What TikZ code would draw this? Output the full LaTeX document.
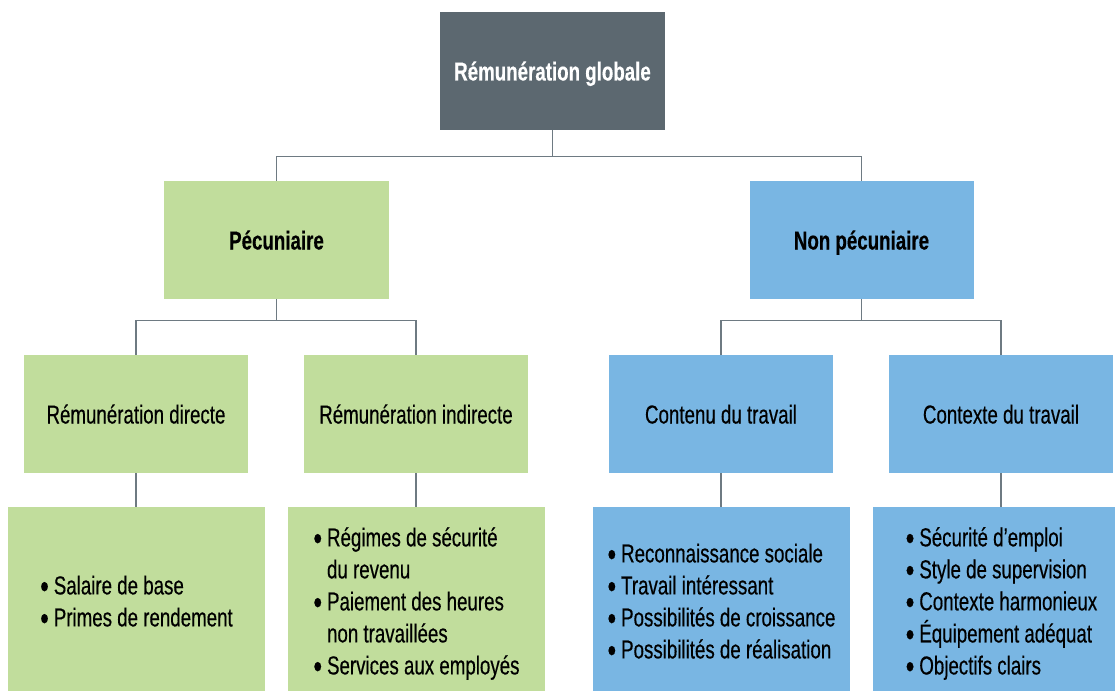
\documentclass[tikz,border=0pt]{standalone}
\usepackage{fontspec}
\setmainfont{Liberation Sans}[FakeStretch=0.72, FakeBold=0.4]
\usepackage{xcolor}
\usetikzlibrary{positioning, calc}
\definecolor{slate}{HTML}{5C6870}
\definecolor{leaf}{HTML}{C1DD9C}
\definecolor{sky}{HTML}{79B6E3}
\definecolor{wire}{HTML}{6E7A82}
\newcommand{\bul}{\smash{\fontsize{34}{32}\selectfont\raisebox{-3.5pt}{\textbullet}}}

\tikzset{
  box/.style={inner sep=0pt, minimum width=224pt, minimum height=118pt,
    font=\fontsize{26}{32}\selectfont, align=center, text height=22pt, text depth=3pt},
  rootbox/.style={box, fill=slate, text=white, minimum width=225pt, font=\fontsize{26}{32}\selectfont\bfseries},
  greenbox/.style={box, fill=leaf},
  bluebox/.style={box, fill=sky},
  listbox/.style={box, minimum width=257pt, minimum height=194pt, text height=, text depth=},
  link/.style={draw=wire, line width=1.3pt}
}

\begin{document}
\begin{tikzpicture}[x=1pt, y=-1pt]
  \useasboundingbox (0,0) rectangle (1115,690);

  % top level
  \node[rootbox] (root) at (552.5,71) {Rémunération globale};

  % second level
  \node[greenbox, minimum width=225pt, font=\fontsize{26}{32}\selectfont\bfseries] (pec) at (276.5,240) {Pécuniaire};
  \node[bluebox, font=\fontsize{26}{32}\selectfont\bfseries] (npec) at (861.5,240) {Non pécuniaire};

  % third level
  \node[greenbox] (direct) at (136,414) {Rémunération directe};
  \node[greenbox] (indirect) at (416,414) {Rémunération indirecte};
  \node[bluebox] (contenu) at (721,414) {Contenu du travail};
  \node[bluebox] (contexte) at (1001,414) {Contexte du travail};

  % lists
  \node[listbox, fill=leaf] (ldirect) at (136.5,604) {%
    \begin{tabular}{@{}l@{\hspace{5pt}}l@{}}
      \bul & Salaire de base\\
      \bul & Primes de rendement
    \end{tabular}};
  \node[listbox, fill=leaf] (lindirect) at (416.5,604) {%
    \begin{tabular}{@{}l@{\hspace{5pt}}l@{}}
      \bul & Régimes de sécurité\\
           & du revenu\\
      \bul & Paiement des heures\\
           & non travaillées\\
      \bul & Services aux employés
    \end{tabular}};
  \node[listbox, fill=sky] (lcontenu) at (721.5,604) {%
    \begin{tabular}{@{}l@{\hspace{5pt}}l@{}}
      \bul & Reconnaissance sociale\\
      \bul & Travail intéressant\\
      \bul & Possibilités de croissance\\
      \bul & Possibilités de réalisation
    \end{tabular}};
  \node[listbox, fill=sky] (lcontexte) at (1001.5,604) {%
    \begin{tabular}{@{}l@{\hspace{5pt}}l@{}}
      \bul & Sécurité d’emploi\\
      \bul & Style de supervision\\
      \bul & Contexte harmonieux\\
      \bul & Équipement adéquat\\
      \bul & Objectifs clairs
    \end{tabular}};

  % connectors
  \draw[link] (root.south) -- ++(0,26) -| (pec.north);
  \draw[link] (root.south) -- ++(0,26) -| (npec.north);
  \draw[link] (pec.south) -- ++(0,21) -| (direct.north);
  \draw[link] (pec.south) -- ++(0,21) -| (indirect.north);
  \draw[link] (npec.south) -- ++(0,21) -| (contenu.north);
  \draw[link] (npec.south) -- ++(0,21) -| (contexte.north);
  \draw[link] (direct.south) -- (ldirect.north -| direct.south);
  \draw[link] (indirect.south) -- (lindirect.north -| indirect.south);
  \draw[link] (contenu.south) -- (lcontenu.north -| contenu.south);
  \draw[link] (contexte.south) -- (lcontexte.north -| contexte.south);
\end{tikzpicture}
\end{document}
